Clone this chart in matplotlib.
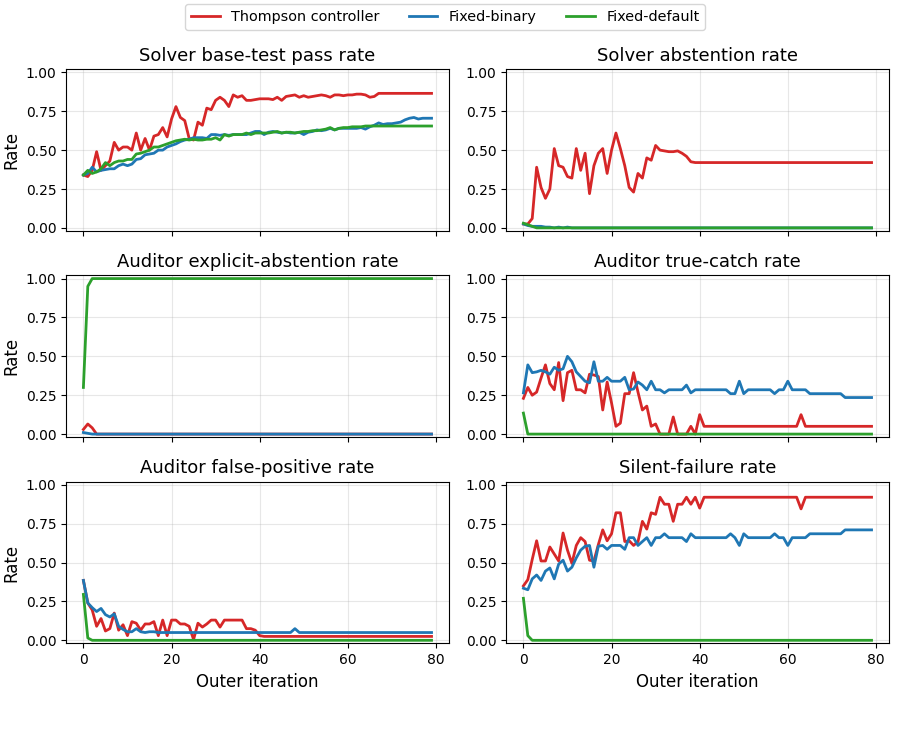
import matplotlib
matplotlib.use("Agg")
import matplotlib.pyplot as plt
import numpy as np

iterations = np.arange(80)

# Solver base-test pass rate
pass_thompson = [0.34, 0.33, 0.37, 0.49, 0.37, 0.40, 0.43, 0.55, 0.50, 0.52,
                 0.52, 0.50, 0.61, 0.50, 0.575, 0.50, 0.59, 0.60, 0.645, 0.585,
                 0.70, 0.78, 0.71, 0.69, 0.575, 0.565, 0.68, 0.66, 0.77, 0.76,
                 0.82, 0.84, 0.82, 0.78, 0.855, 0.84, 0.85, 0.82, 0.82, 0.825,
                 0.83, 0.83, 0.83, 0.825, 0.84, 0.82, 0.845, 0.85, 0.855, 0.84,
                 0.85, 0.84, 0.845, 0.85, 0.855, 0.85, 0.84, 0.855, 0.855, 0.85,
                 0.855, 0.855, 0.86, 0.86, 0.855, 0.84, 0.845, 0.865, 0.865, 0.865,
                 0.865, 0.865, 0.865, 0.865, 0.865, 0.865, 0.865, 0.865, 0.865, 0.865]
pass_binary = [0.34, 0.35, 0.39, 0.36, 0.37, 0.375, 0.38, 0.38, 0.40, 0.41,
               0.40, 0.41, 0.44, 0.445, 0.47, 0.475, 0.48, 0.50, 0.50, 0.52,
               0.53, 0.54, 0.555, 0.565, 0.57, 0.58, 0.58, 0.58, 0.575, 0.60,
               0.60, 0.595, 0.60, 0.595, 0.60, 0.60, 0.60, 0.60, 0.61, 0.62,
               0.62, 0.60, 0.615, 0.62, 0.615, 0.61, 0.615, 0.61, 0.61, 0.615,
               0.60, 0.615, 0.62, 0.63, 0.625, 0.63, 0.64, 0.63, 0.64, 0.64,
               0.64, 0.64, 0.64, 0.645, 0.635, 0.65, 0.66, 0.675, 0.665, 0.67,
               0.67, 0.675, 0.68, 0.695, 0.705, 0.71, 0.70, 0.705, 0.705, 0.705]
pass_default = [0.34, 0.37, 0.35, 0.36, 0.38, 0.42, 0.40, 0.42, 0.43, 0.43,
                0.44, 0.44, 0.475, 0.48, 0.49, 0.50, 0.52, 0.52, 0.53, 0.54,
                0.55, 0.56, 0.565, 0.57, 0.565, 0.57, 0.565, 0.565, 0.57, 0.57,
                0.58, 0.565, 0.60, 0.59, 0.60, 0.60, 0.60, 0.61, 0.60, 0.61,
                0.61, 0.61, 0.61, 0.615, 0.62, 0.61, 0.615, 0.615, 0.61, 0.615,
                0.62, 0.62, 0.625, 0.625, 0.63, 0.635, 0.645, 0.63, 0.64, 0.645,
                0.645, 0.65, 0.65, 0.65, 0.655, 0.655, 0.655, 0.655, 0.655, 0.655,
                0.655, 0.655, 0.655, 0.655, 0.655, 0.655, 0.655, 0.655, 0.655, 0.655]

# Solver abstention rate
abst_thompson = [0.025, 0.025, 0.06, 0.39, 0.26, 0.19, 0.25, 0.51, 0.40, 0.39,
                 0.33, 0.32, 0.51, 0.37, 0.48, 0.22, 0.40, 0.48, 0.51, 0.35,
                 0.50, 0.61, 0.51, 0.40, 0.26, 0.23, 0.35, 0.32, 0.45, 0.435,
                 0.53, 0.50, 0.495, 0.49, 0.49, 0.495, 0.48, 0.46, 0.425, 0.42,
                 0.42, 0.42, 0.42, 0.42, 0.42, 0.42, 0.42, 0.42, 0.42, 0.42,
                 0.42, 0.42, 0.42, 0.42, 0.42, 0.42, 0.42, 0.42, 0.42, 0.42,
                 0.42, 0.42, 0.42, 0.42, 0.42, 0.42, 0.42, 0.42, 0.42, 0.42,
                 0.42, 0.42, 0.42, 0.42, 0.42, 0.42, 0.42, 0.42, 0.42, 0.42]
abst_binary = [0.025, 0.015, 0.01, 0.01, 0.01, 0.005, 0.005, 0.0, 0.005, 0.0,
               0.005, 0.0, 0.0, 0.0, 0.0, 0.0, 0.0, 0.0, 0.0, 0.0,
               0.0, 0.0, 0.0, 0.0, 0.0, 0.0, 0.0, 0.0, 0.0, 0.0,
               0.0, 0.0, 0.0, 0.0, 0.0, 0.0, 0.0, 0.0, 0.0, 0.0,
               0.0, 0.0, 0.0, 0.0, 0.0, 0.0, 0.0, 0.0, 0.0, 0.0,
               0.0, 0.0, 0.0, 0.0, 0.0, 0.0, 0.0, 0.0, 0.0, 0.0,
               0.0, 0.0, 0.0, 0.0, 0.0, 0.0, 0.0, 0.0, 0.0, 0.0,
               0.0, 0.0, 0.0, 0.0, 0.0, 0.0, 0.0, 0.0, 0.0, 0.0]
abst_default = [0.03, 0.02, 0.01, 0.0, 0.0, 0.0, 0.0, 0.0, 0.0, 0.0,
                0.0, 0.0, 0.0, 0.0, 0.0, 0.0, 0.0, 0.0, 0.0, 0.0,
                0.0, 0.0, 0.0, 0.0, 0.0, 0.0, 0.0, 0.0, 0.0, 0.0,
                0.0, 0.0, 0.0, 0.0, 0.0, 0.0, 0.0, 0.0, 0.0, 0.0,
                0.0, 0.0, 0.0, 0.0, 0.0, 0.0, 0.0, 0.0, 0.0, 0.0,
                0.0, 0.0, 0.0, 0.0, 0.0, 0.0, 0.0, 0.0, 0.0, 0.0,
                0.0, 0.0, 0.0, 0.0, 0.0, 0.0, 0.0, 0.0, 0.0, 0.0,
                0.0, 0.0, 0.0, 0.0, 0.0, 0.0, 0.0, 0.0, 0.0, 0.0]

# Auditor explicit-abstention rate
expl_thompson = [0.03, 0.065, 0.04, 0.0, 0.0, 0.0, 0.0, 0.0, 0.0, 0.0,
                 0.0, 0.0, 0.0, 0.0, 0.0, 0.0, 0.0, 0.0, 0.0, 0.0,
                 0.0, 0.0, 0.0, 0.0, 0.0, 0.0, 0.0, 0.0, 0.0, 0.0,
                 0.0, 0.0, 0.0, 0.0, 0.0, 0.0, 0.0, 0.0, 0.0, 0.0,
                 0.0, 0.0, 0.0, 0.0, 0.0, 0.0, 0.0, 0.0, 0.0, 0.0,
                 0.0, 0.0, 0.0, 0.0, 0.0, 0.0, 0.0, 0.0, 0.0, 0.0,
                 0.0, 0.0, 0.0, 0.0, 0.0, 0.0, 0.0, 0.0, 0.0, 0.0,
                 0.0, 0.0, 0.0, 0.0, 0.0, 0.0, 0.0, 0.0, 0.0, 0.0]
expl_binary = [0.01, 0.005, 0.0, 0.0, 0.0, 0.0, 0.0, 0.0, 0.0, 0.0,
               0.0, 0.0, 0.0, 0.0, 0.0, 0.0, 0.0, 0.0, 0.0, 0.0,
               0.0, 0.0, 0.0, 0.0, 0.0, 0.0, 0.0, 0.0, 0.0, 0.0,
               0.0, 0.0, 0.0, 0.0, 0.0, 0.0, 0.0, 0.0, 0.0, 0.0,
               0.0, 0.0, 0.0, 0.0, 0.0, 0.0, 0.0, 0.0, 0.0, 0.0,
               0.0, 0.0, 0.0, 0.0, 0.0, 0.0, 0.0, 0.0, 0.0, 0.0,
               0.0, 0.0, 0.0, 0.0, 0.0, 0.0, 0.0, 0.0, 0.0, 0.0,
               0.0, 0.0, 0.0, 0.0, 0.0, 0.0, 0.0, 0.0, 0.0, 0.0]
expl_default = [0.30, 0.95, 1.0, 1.0, 1.0, 1.0, 1.0, 1.0, 1.0, 1.0,
                1.0, 1.0, 1.0, 1.0, 1.0, 1.0, 1.0, 1.0, 1.0, 1.0,
                1.0, 1.0, 1.0, 1.0, 1.0, 1.0, 1.0, 1.0, 1.0, 1.0,
                1.0, 1.0, 1.0, 1.0, 1.0, 1.0, 1.0, 1.0, 1.0, 1.0,
                1.0, 1.0, 1.0, 1.0, 1.0, 1.0, 1.0, 1.0, 1.0, 1.0,
                1.0, 1.0, 1.0, 1.0, 1.0, 1.0, 1.0, 1.0, 1.0, 1.0,
                1.0, 1.0, 1.0, 1.0, 1.0, 1.0, 1.0, 1.0, 1.0, 1.0,
                1.0, 1.0, 1.0, 1.0, 1.0, 1.0, 1.0, 1.0, 1.0, 1.0]

# Auditor true-catch rate
catch_thompson = [0.23, 0.30, 0.25, 0.27, 0.36, 0.445, 0.325, 0.285, 0.46, 0.215,
                  0.395, 0.41, 0.285, 0.285, 0.265, 0.385, 0.38, 0.37, 0.155, 0.335,
                  0.20, 0.05, 0.07, 0.26, 0.26, 0.395, 0.27, 0.155, 0.18, 0.05,
                  0.065, 0.0, 0.0, 0.0, 0.11, 0.0, 0.0, 0.0, 0.05, 0.0,
                  0.125, 0.05, 0.05, 0.05, 0.05, 0.05, 0.05, 0.05, 0.05, 0.05,
                  0.05, 0.05, 0.05, 0.05, 0.05, 0.05, 0.05, 0.05, 0.05, 0.05,
                  0.05, 0.05, 0.05, 0.125, 0.05, 0.05, 0.05, 0.05, 0.05, 0.05,
                  0.05, 0.05, 0.05, 0.05, 0.05, 0.05, 0.05, 0.05, 0.05, 0.05]
catch_binary = [0.265, 0.445, 0.395, 0.40, 0.41, 0.40, 0.385, 0.43, 0.41, 0.42,
                0.50, 0.465, 0.40, 0.37, 0.34, 0.33, 0.465, 0.34, 0.34, 0.365,
                0.34, 0.34, 0.34, 0.365, 0.285, 0.29, 0.335, 0.315, 0.285, 0.34,
                0.285, 0.285, 0.265, 0.285, 0.285, 0.285, 0.285, 0.315, 0.265, 0.285,
                0.285, 0.285, 0.285, 0.285, 0.285, 0.285, 0.285, 0.26, 0.26, 0.34,
                0.26, 0.285, 0.285, 0.285, 0.285, 0.285, 0.285, 0.26, 0.285, 0.285,
                0.34, 0.285, 0.285, 0.285, 0.285, 0.26, 0.26, 0.26, 0.26, 0.26,
                0.26, 0.26, 0.26, 0.235, 0.235, 0.235, 0.235, 0.235, 0.235, 0.235]
catch_default = [0.135, 0.0, 0.0, 0.0, 0.0, 0.0, 0.0, 0.0, 0.0, 0.0,
                 0.0, 0.0, 0.0, 0.0, 0.0, 0.0, 0.0, 0.0, 0.0, 0.0,
                 0.0, 0.0, 0.0, 0.0, 0.0, 0.0, 0.0, 0.0, 0.0, 0.0,
                 0.0, 0.0, 0.0, 0.0, 0.0, 0.0, 0.0, 0.0, 0.0, 0.0,
                 0.0, 0.0, 0.0, 0.0, 0.0, 0.0, 0.0, 0.0, 0.0, 0.0,
                 0.0, 0.0, 0.0, 0.0, 0.0, 0.0, 0.0, 0.0, 0.0, 0.0,
                 0.0, 0.0, 0.0, 0.0, 0.0, 0.0, 0.0, 0.0, 0.0, 0.0,
                 0.0, 0.0, 0.0, 0.0, 0.0, 0.0, 0.0, 0.0, 0.0, 0.0]

# Auditor false-positive rate
fp_thompson = [0.385, 0.24, 0.195, 0.09, 0.14, 0.06, 0.075, 0.175, 0.065, 0.10,
               0.03, 0.12, 0.11, 0.065, 0.105, 0.105, 0.12, 0.03, 0.13, 0.03,
               0.13, 0.13, 0.105, 0.105, 0.09, 0.005, 0.11, 0.085, 0.105, 0.13,
               0.13, 0.085, 0.13, 0.13, 0.13, 0.13, 0.13, 0.075, 0.075, 0.065,
               0.03, 0.025, 0.025, 0.025, 0.025, 0.025, 0.025, 0.025, 0.025, 0.025,
               0.025, 0.025, 0.025, 0.025, 0.025, 0.025, 0.025, 0.025, 0.025, 0.025,
               0.025, 0.025, 0.025, 0.025, 0.025, 0.025, 0.025, 0.025, 0.025, 0.025,
               0.025, 0.025, 0.025, 0.025, 0.025, 0.025, 0.025, 0.025, 0.025, 0.025]
fp_binary = [0.385, 0.24, 0.21, 0.185, 0.205, 0.165, 0.15, 0.17, 0.09, 0.07,
             0.055, 0.055, 0.075, 0.055, 0.05, 0.055, 0.055, 0.05, 0.05, 0.05,
             0.05, 0.05, 0.05, 0.05, 0.05, 0.05, 0.05, 0.05, 0.05, 0.05,
             0.05, 0.05, 0.05, 0.05, 0.05, 0.05, 0.05, 0.05, 0.05, 0.05,
             0.05, 0.05, 0.05, 0.05, 0.05, 0.05, 0.05, 0.05, 0.075, 0.05,
             0.05, 0.05, 0.05, 0.05, 0.05, 0.05, 0.05, 0.05, 0.05, 0.05,
             0.05, 0.05, 0.05, 0.05, 0.05, 0.05, 0.05, 0.05, 0.05, 0.05,
             0.05, 0.05, 0.05, 0.05, 0.05, 0.05, 0.05, 0.05, 0.05, 0.05]
fp_default = [0.295, 0.015, 0.0, 0.0, 0.0, 0.0, 0.0, 0.0, 0.0, 0.0,
              0.0, 0.0, 0.0, 0.0, 0.0, 0.0, 0.0, 0.0, 0.0, 0.0,
              0.0, 0.0, 0.0, 0.0, 0.0, 0.0, 0.0, 0.0, 0.0, 0.0,
              0.0, 0.0, 0.0, 0.0, 0.0, 0.0, 0.0, 0.0, 0.0, 0.0,
              0.0, 0.0, 0.0, 0.0, 0.0, 0.0, 0.0, 0.0, 0.0, 0.0,
              0.0, 0.0, 0.0, 0.0, 0.0, 0.0, 0.0, 0.0, 0.0, 0.0,
              0.0, 0.0, 0.0, 0.0, 0.0, 0.0, 0.0, 0.0, 0.0, 0.0,
              0.0, 0.0, 0.0, 0.0, 0.0, 0.0, 0.0, 0.0, 0.0, 0.0]

# Silent-failure rate
silent_thompson = [0.35, 0.39, 0.52, 0.64, 0.51, 0.51, 0.60, 0.555, 0.51, 0.69,
                   0.58, 0.495, 0.61, 0.66, 0.635, 0.515, 0.51, 0.615, 0.71, 0.64,
                   0.685, 0.82, 0.82, 0.635, 0.64, 0.61, 0.635, 0.765, 0.715, 0.82,
                   0.81, 0.92, 0.875, 0.875, 0.765, 0.875, 0.875, 0.92, 0.875, 0.92,
                   0.85, 0.92, 0.92, 0.92, 0.92, 0.92, 0.92, 0.92, 0.92, 0.92,
                   0.92, 0.92, 0.92, 0.92, 0.92, 0.92, 0.92, 0.92, 0.92, 0.92,
                   0.92, 0.92, 0.92, 0.845, 0.92, 0.92, 0.92, 0.92, 0.92, 0.92,
                   0.92, 0.92, 0.92, 0.92, 0.92, 0.92, 0.92, 0.92, 0.92, 0.92]
silent_binary = [0.335, 0.325, 0.395, 0.42, 0.385, 0.445, 0.465, 0.395, 0.49, 0.515,
                 0.445, 0.47, 0.53, 0.58, 0.605, 0.61, 0.47, 0.605, 0.61, 0.585,
                 0.61, 0.61, 0.61, 0.585, 0.66, 0.66, 0.61, 0.635, 0.66, 0.61,
                 0.66, 0.66, 0.685, 0.66, 0.66, 0.66, 0.66, 0.635, 0.685, 0.66,
                 0.66, 0.66, 0.66, 0.66, 0.66, 0.66, 0.66, 0.685, 0.66, 0.61,
                 0.685, 0.66, 0.66, 0.66, 0.66, 0.66, 0.66, 0.685, 0.66, 0.66,
                 0.61, 0.66, 0.66, 0.66, 0.66, 0.685, 0.685, 0.685, 0.685, 0.685,
                 0.685, 0.685, 0.685, 0.71, 0.71, 0.71, 0.71, 0.71, 0.71, 0.71]
silent_default = [0.27, 0.03, 0.0, 0.0, 0.0, 0.0, 0.0, 0.0, 0.0, 0.0,
                  0.0, 0.0, 0.0, 0.0, 0.0, 0.0, 0.0, 0.0, 0.0, 0.0,
                  0.0, 0.0, 0.0, 0.0, 0.0, 0.0, 0.0, 0.0, 0.0, 0.0,
                  0.0, 0.0, 0.0, 0.0, 0.0, 0.0, 0.0, 0.0, 0.0, 0.0,
                  0.0, 0.0, 0.0, 0.0, 0.0, 0.0, 0.0, 0.0, 0.0, 0.0,
                  0.0, 0.0, 0.0, 0.0, 0.0, 0.0, 0.0, 0.0, 0.0, 0.0,
                  0.0, 0.0, 0.0, 0.0, 0.0, 0.0, 0.0, 0.0, 0.0, 0.0,
                  0.0, 0.0, 0.0, 0.0, 0.0, 0.0, 0.0, 0.0, 0.0, 0.0]

titles = ["Solver base-test pass rate", "Solver abstention rate",
          "Auditor explicit-abstention rate", "Auditor true-catch rate",
          "Auditor false-positive rate", "Silent-failure rate"]
panels = [
    (pass_thompson, pass_binary, pass_default),
    (abst_thompson, abst_binary, abst_default),
    (expl_thompson, expl_binary, expl_default),
    (catch_thompson, catch_binary, catch_default),
    (fp_thompson, fp_binary, fp_default),
    (silent_thompson, silent_binary, silent_default),
]
labels = ["Thompson controller", "Fixed-binary", "Fixed-default"]
colors = ["#d62728", "#1f77b4", "#2ca02c"]

fig, axes = plt.subplots(3, 2, figsize=(9.14, 7.29), dpi=100, sharex=True)
fig.subplots_adjust(left=0.0722, right=0.9726, top=0.905, bottom=0.1174,
                    wspace=0.149, hspace=0.275)

for ax, title, series in zip(axes.flat, titles, panels):
    for vals, lab, c in zip(series, labels, colors):
        ax.plot(iterations, vals, color=c, lw=2, label=lab)
    ax.set_title(title, fontsize=13)
    ax.set_ylim(-0.02, 1.02)
    ax.set_yticks([0.0, 0.25, 0.5, 0.75, 1.0])
    ax.set_xticks([0, 20, 40, 60, 80])
    ax.grid(True, alpha=0.3)
    ax.tick_params(labelsize=10)

for ax in axes[:, 0]:
    ax.set_ylabel("Rate", fontsize=12)
for ax in axes[-1, :]:
    ax.set_xlabel("Outer iteration", fontsize=12)

handles, labs = axes[0, 0].get_legend_handles_labels()
fig.legend(handles, labs, loc="upper center", ncol=3, fontsize=10.4,
           bbox_to_anchor=(0.487, 1.004))

fig.savefig("out.png", dpi=100)
